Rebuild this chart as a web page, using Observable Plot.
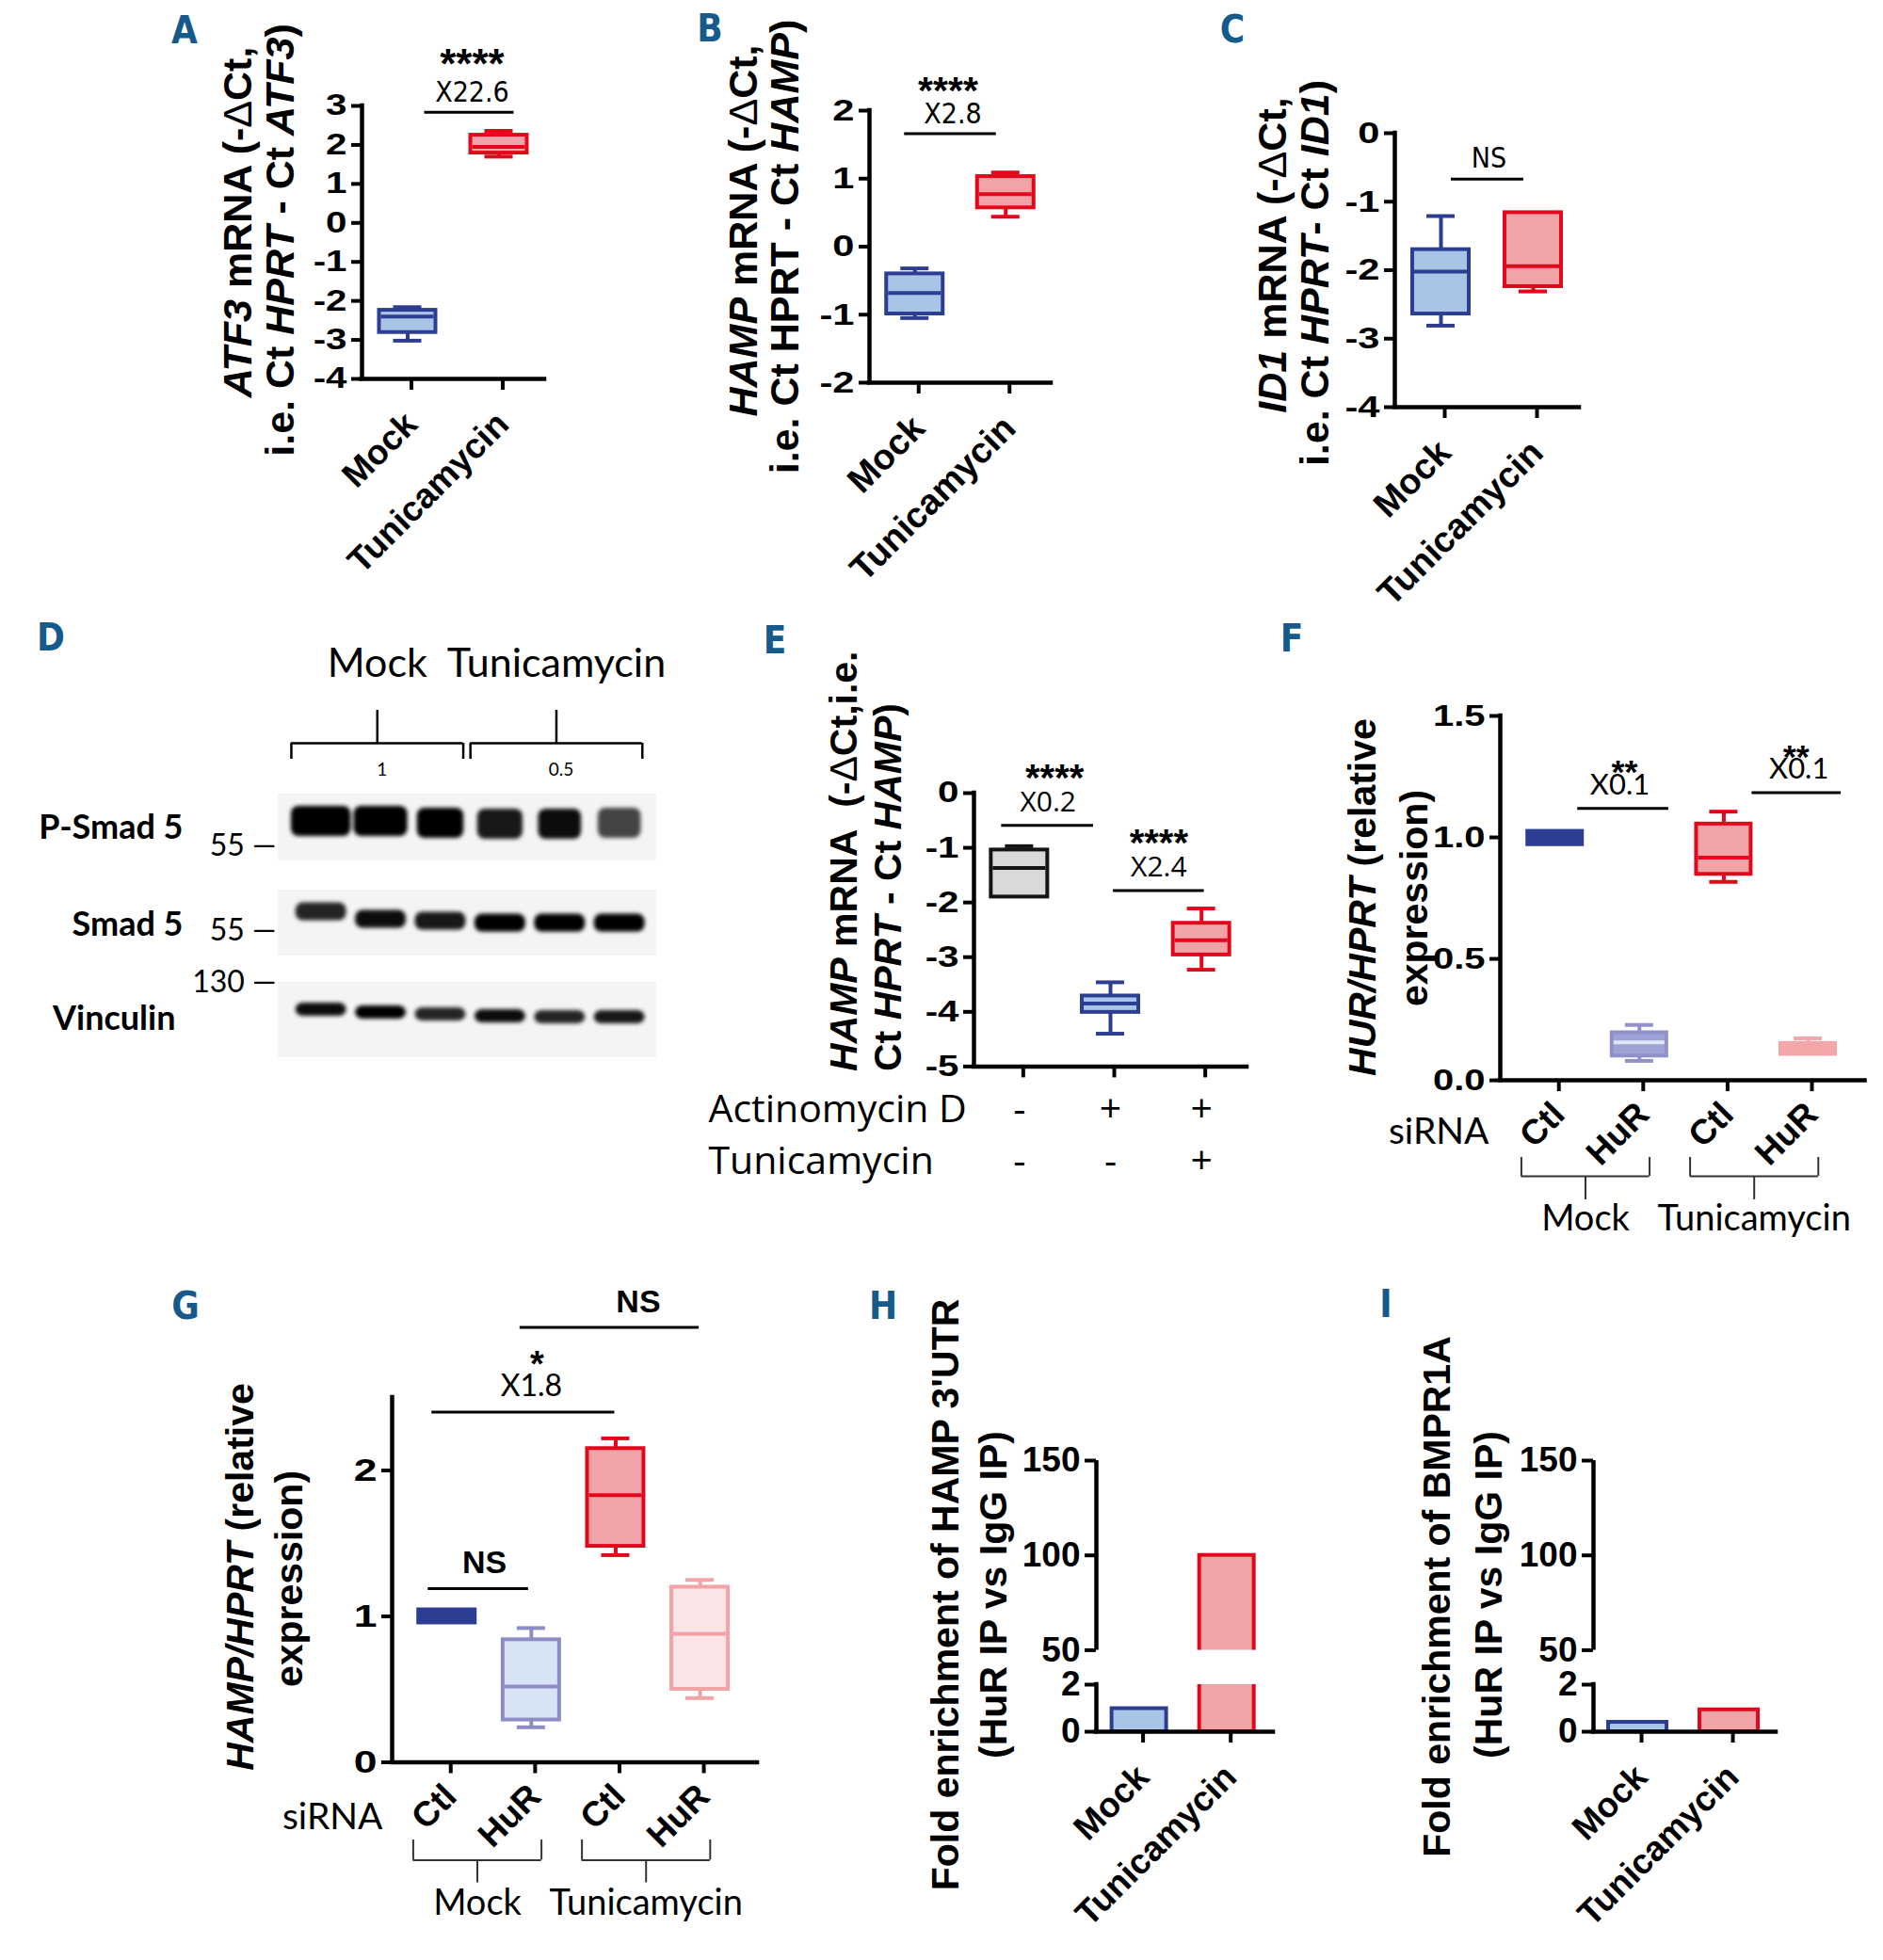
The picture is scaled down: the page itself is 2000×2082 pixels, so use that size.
<!DOCTYPE html>
<html>
<head>
<meta charset="utf-8">
<script src="https://cdn.jsdelivr.net/npm/d3@7"></script>
<script src="https://cdn.jsdelivr.net/npm/@observablehq/plot@0.6"></script>
<style>
html,body{margin:0;padding:0;background:#fff;}
#fig{position:relative;width:2000px;height:2082px;overflow:hidden;background:#fff;}
#fig svg{position:absolute;overflow:visible;}
.ylab{position:absolute;white-space:nowrap;font-family:"Liberation Sans",Arial,Helvetica,sans-serif;font-weight:bold;line-height:1;color:#000;}
.ylab.mid{transform:translate(-50%,-50%) rotate(-90deg);}
.ylab.start{transform-origin:0 50%;transform:translate(0,-50%) rotate(-90deg);}
.ylab .d{font-weight:normal;}
.letter{position:absolute;font-family:"DejaVu Sans Condensed","Liberation Sans Narrow",sans-serif;font-weight:bold;color:#155a8a;transform:translate(-50%,-50%);line-height:1;font-size:40px;}
</style>
</head>
<body>
<div id="fig"></div>
<script>
// ===================== DATA =====================
const groups2 = ["Mock", "Tunicamycin"];

// A: ATF3 mRNA (-dCt) box statistics
const atf3Stats = [
  {group: "Mock", min: -3.02, q1: -2.81, median: -2.40, q3: -2.24, max: -2.16},
  {group: "Tunicamycin", min: 1.70, q1: 1.79, median: 1.95, q3: 2.25, max: 2.36}
];
// B: HAMP mRNA (-dCt)
const hampStats = [
  {group: "Mock", min: -1.05, q1: -0.99, median: -0.68, q3: -0.40, max: -0.32},
  {group: "Tunicamycin", min: 0.44, q1: 0.57, median: 0.77, q3: 1.03, max: 1.09}
];
// C: ID1 mRNA (-dCt)
const id1Stats = [
  {group: "Mock", min: -2.81, q1: -2.64, median: -2.02, q3: -1.70, max: -1.21},
  {group: "Tunicamycin", min: -2.31, q1: -2.24, median: -1.94, q3: -1.16, max: -1.16}
];
// E: HAMP mRNA with actinomycin D
const eConditions = ["ctl", "actD", "actD+tun"];
const eRowNames = ["Actinomycin D", "Tunicamycin"];
const eActinomycinD = ["-", "+", "+"];
const eTunicamycin = ["-", "-", "+"];
const hampActDStats = [
  {group: "ctl", min: -1.90, q1: -1.90, median: -1.37, q3: -1.04, max: -0.97},
  {group: "actD", min: -4.40, q1: -4.01, median: -3.85, q3: -3.71, max: -3.46},
  {group: "actD+tun", min: -3.23, q1: -2.96, median: -2.69, q3: -2.38, max: -2.11}
];
// F, G: siRNA experiments
const siConditions = ["Mock Ctl", "Mock HuR", "Tun Ctl", "Tun HuR"];
const siTreatment = ["Mock", "Mock", "Tunicamycin", "Tunicamycin"];
const siRNAs = ["Ctl", "HuR", "Ctl", "HuR"];
const hurStats = [
  {group: "Mock Ctl", min: 0.97, q1: 0.97, median: 1.00, q3: 1.025, max: 1.025},
  {group: "Mock HuR", min: 0.08, q1: 0.10, median: 0.156, q3: 0.196, max: 0.228},
  {group: "Tun Ctl", min: 0.817, q1: 0.848, median: 0.917, q3: 1.055, max: 1.106},
  {group: "Tun HuR", min: 0.107, q1: 0.107, median: 0.13, q3: 0.152, max: 0.173}
];
const hampSiStats = [
  {group: "Mock Ctl", min: 0.955, q1: 0.955, median: 1.00, q3: 1.045, max: 1.045},
  {group: "Mock HuR", min: 0.24, q1: 0.29, median: 0.52, q3: 0.84, max: 0.92},
  {group: "Tun Ctl", min: 1.42, q1: 1.48, median: 1.83, q3: 2.15, max: 2.22},
  {group: "Tun HuR", min: 0.44, q1: 0.50, median: 0.88, q3: 1.20, max: 1.25}
];
// H, I: RIP fold enrichment
const ripHamp = [0.98, 100];
const ripBmpr1a = [0.40, 0.93];

// significance annotations
const sigA = [{from: "Mock", to: "Tunicamycin", y: 2.84, fold: "X22.6", stars: "****"}];
const sigB = [{from: "Mock", to: "Tunicamycin", y: 1.66, fold: "X2.8", stars: "****"}];
const sigC = [{from: "Mock", to: "Tunicamycin", y: -0.67, fold: "NS", stars: ""}];
const sigE = [
  {from: "ctl", to: "actD", y: -0.59, fold: "X0.2", stars: "****"},
  {from: "actD", to: "actD+tun", y: -1.78, fold: "X2.4", stars: "****"}
];
const sigF = [
  {from: "Mock Ctl", to: "Mock HuR", y: 1.119, fold: "X0.1", stars: "**"},
  {from: "Tun Ctl", to: "Tun HuR", y: 1.184, fold: "X0.1", stars: "**"}
];
const sigG = [
  {from: "Mock Ctl", to: "Tun Ctl", y: 2.40, fold: "X1.8", stars: "*"},
  {from: "Mock HuR", to: "Tun HuR", y: 2.98, fold: "NS", stars: ""},
  {from: "Mock Ctl", to: "Mock HuR", y: 1.19, fold: "NS", stars: ""}
];

// D: western blot (gel migration units, band intensity 0-1)
const blotLanes = [0, 1, 2, 3, 4, 5];
const blotTreatment = ["Mock", "Mock", "Mock", "Tunicamycin", "Tunicamycin", "Tunicamycin"];
const blotRatio = {"Mock": "1", "Tunicamycin": "0.5"};
const blotProteins = ["P-Smad 5", "Smad 5", "Vinculin"];
const blotStripTop = [0, 102, 200];
const blotStripBottom = [71, 172, 280];
const pSmad5Band = [1.0, 1.0, 1.0, 0.9, 0.95, 0.72];
const smad5Band = [0.85, 0.95, 0.9, 1.0, 1.0, 1.0];
const vinculinBand = [0.95, 1.0, 0.85, 0.95, 0.85, 0.9];
const pSmad5Width = [1.0, 0.9, 0.78, 0.76, 0.72, 0.72];
const pSmad5Pos = [29, 29, 31, 32, 32, 31];
const smad5Pos = [125, 133, 135, 137, 137, 137];
const vinculinPos = [229, 232, 234, 236, 237, 237];
const mwMarkers = [{kda: "55", pos: 55}, {kda: "55", pos: 145}, {kda: "130", pos: 200}];

// ===================== STYLE =====================
const ARIAL = '"Liberation Sans", Arial, Helvetica, sans-serif';
const COND = '"DejaVu Sans Condensed", "Liberation Sans Narrow", sans-serif';
const LATO = 'Lato, "Open Sans", sans-serif';
const OPEN = '"Open Sans", Lato, sans-serif';
const BLUE = {stroke: "#2c3d92", fill: "#a8c5e8"};
const RED = {stroke: "#e2071b", fill: "#f2a3a8"};
const GREY = {stroke: "#141414", fill: "#d9d9d9"};
const BLUE_SOLID = {stroke: "#2c3d92", fill: "#2c3d92"};
const LAV_F = {stroke: "#9191c9", fill: "#9fa2d5", median: "#dce8f7"};
const LAV_G = {stroke: "#8d8dc5", fill: "#d7e4f5"};
const PINK_G = {stroke: "#f3a2a6", fill: "#fce5e7"};
const PINK_F = {stroke: "#f4a6a9", fill: "#f4a6a9"};
const baseStyle = {fontFamily: ARIAL, fontWeight: "bold", overflow: "visible", background: "transparent", color: "#000"};

const fig = document.getElementById("fig");
function put(svg, left, top) {
  svg.style.left = left + "px";
  svg.style.top = top + "px";
  fig.appendChild(svg);
}
// widen tick labels horizontally (the reference panels are stretched)
function stretch(svg, sx) {
  if (!sx || sx === 1) return;
  svg.querySelectorAll('g[aria-label="y-axis tick label"] text').forEach(t => {
    const tr = t.getAttribute("transform");
    if (tr) t.setAttribute("transform", tr + ` scale(${sx},1)`);
    else {
      const x = +(t.getAttribute("x") || 0);
      t.setAttribute("transform", `translate(${x},0) scale(${sx},1) translate(${-x},0)`);
    }
  });
}

// ===================== BOX PANEL =====================
function boxPanel(c) {
  const n = c.cats.length;
  const padL = c.padL ?? 0.5, padR = c.padR ?? 0.5;
  const step = (c.R - c.L) / (n - 1 + padL + padR);
  const hw = (c.boxW ?? 60) / 2 / step, cw = (c.capW ?? 30) / 2 / step;
  const mL = c.mL ?? 110, mR = c.mR ?? 40, mT = c.mT ?? 120, mB = c.mB ?? 230;
  const rows = c.stats.map((d, k) => ({...d, i: c.cats.indexOf(d.group), stroke: c.colors[k].stroke,
    fill: c.colors[k].fill, mstroke: c.colors[k].median ?? c.colors[k].stroke}));
  const ix = g => c.cats.indexOf(g);
  const sig = (c.sig ?? []).map((s, k) => {
    const o = (c.sigStyle ?? [])[k] ?? {};
    const a = ix(s.from), b = ix(s.to);
    return {...s, x1: a + (o.dx1 ?? 0) / step, x2: b + (o.dx2 ?? 0) / step,
      xm: (a + b) / 2 + (o.tdx ?? 0) / step, xs: (a + b) / 2 + (o.sdx ?? o.tdx ?? 0) / step, bold: !!o.bold};
  });
  const sw = c.sw ?? 4;
  const marks = [
    Plot.ruleX(rows, {x: "i", y1: "min", y2: "max", stroke: "stroke", strokeWidth: sw}),
    Plot.ruleY(rows.filter(d => d.max > d.q3), {x1: d => d.i - cw, x2: d => d.i + cw, y: "max", stroke: "stroke", strokeWidth: sw}),
    Plot.ruleY(rows.filter(d => d.min < d.q1), {x1: d => d.i - cw, x2: d => d.i + cw, y: "min", stroke: "stroke", strokeWidth: sw}),
    Plot.rect(rows, {x1: d => d.i - hw, x2: d => d.i + hw, y1: "q1", y2: "q3", fill: "fill", stroke: "stroke", strokeWidth: sw}),
    Plot.ruleY(rows, {x1: d => d.i - hw + 2 / step, x2: d => d.i + hw - 2 / step, y: "median", stroke: "mstroke", strokeWidth: sw}),
    Plot.ruleY(sig, {x1: "x1", x2: "x2", y: "y", stroke: "#000", strokeWidth: 3}),
    Plot.text(sig.filter(d => !d.bold), {x: "xm", y: "y", text: "fold", dy: c.foldDy, fontFamily: c.foldFamily, fontWeight: "normal", fontSize: c.foldSize, fill: "#000"}),
    Plot.text(sig.filter(d => d.bold), {x: "xm", y: "y", text: "fold", dy: c.foldDy, fontFamily: ARIAL, fontWeight: "bold", fontSize: c.foldSize + 2, fill: "#000"}),
    Plot.text(sig.filter(d => d.stars), {x: "xs", y: "y", text: "stars", dy: c.starDy, fontFamily: ARIAL, fontWeight: "bold", fontSize: c.starSize, fill: "#000"}),
    Plot.ruleX([-padL], {stroke: "#000", strokeWidth: 4.5, strokeLinecap: "square"}),
    Plot.ruleY([c.y[0]], {stroke: "#000", strokeWidth: 4.5, strokeLinecap: "square"}),
    Plot.axisY({ticks: c.ticks, tickFormat: c.tickFormat ?? (d => String(d)), tickSize: 11, tickPadding: 5, stroke: "#000", strokeWidth: 4,
      fontSize: c.tickFont, fontWeight: "bold", fontFamily: ARIAL, label: null, fill: "#000"}),
    Plot.axisX({ticks: d3.range(n), tickFormat: c.catFormat ?? (i => c.cats[i]), tickSize: 12, tickPadding: c.catPad ?? 30,
      stroke: "#000", strokeWidth: 4, tickRotate: c.catRotate ?? -45, fontSize: c.catFont, fontWeight: "bold", fontFamily: ARIAL,
      label: null, dx: c.catDx ?? 4, fill: "#000"})
  ];
  if (c.extraMarks) marks.push(...c.extraMarks);
  const svg = Plot.plot({
    width: mL + (c.R - c.L) + mR, height: mT + (c.B - c.T) + mB,
    marginLeft: mL, marginRight: mR, marginTop: mT, marginBottom: mB,
    x: {domain: [-padL, n - 1 + padR]}, y: {domain: c.y},
    style: baseStyle, marks
  });
  stretch(svg, c.tickStretch);
  put(svg, c.L - mL, c.T - mT);
  return {step, padL, padR, mL, mR, n};
}

// brace group labels below F / G
function braceGroups(c, info) {
  const n = info.n;
  const groups = d3.groups(d3.range(n), i => c.treatment[i])
    .map(([label, idx]) => ({label, a: d3.min(idx) - 0.4, b: d3.max(idx) + 0.12}));
  groups.forEach(g => g.m = (g.a + g.b) / 2);
  const mT = 5, mB = 70, h = c.bottom - c.top;
  const svg = Plot.plot({
    width: info.mL + (c.R - c.L) + info.mR, height: mT + h + mB,
    marginLeft: info.mL, marginRight: info.mR, marginTop: mT, marginBottom: mB,
    x: {domain: [-info.padL, n - 1 + info.padR], axis: null}, y: {domain: [0, 1], axis: null},
    style: baseStyle,
    marks: [
      Plot.ruleY(groups, {x1: "a", x2: "b", y: c.arm, stroke: "#333", strokeWidth: 2}),
      Plot.ruleX(groups.flatMap(g => [g.a, g.b]), {x: d => d, y1: c.arm, y2: 1, stroke: "#333", strokeWidth: 2}),
      Plot.ruleX(groups, {x: "m", y1: 0, y2: c.arm, stroke: "#333", strokeWidth: 2}),
      Plot.text(groups, {x: "m", y: 0, dy: c.labelDy, text: "label", fontFamily: LATO, fontWeight: "normal", fontSize: 38, fill: "#000"})
    ]
  });
  put(svg, c.L - info.mL, c.top - mT);
}

// ===================== BROKEN-AXIS BAR PANEL =====================
function brokenBars(c) {
  const n = c.cats.length, padL = c.padL ?? 0.5, padR = c.padR ?? 0.5;
  const step = (c.R - c.L) / (n - 1 + padL + padR);
  const hw = (c.barW ?? 60) / 2 / step;
  const rows = c.values.map((v, k) => ({i: k, v, stroke: c.colors[k].stroke, fill: c.colors[k].fill}));
  const mL = 130, mR = 40;
  const common = {width: mL + (c.R - c.L) + mR, marginLeft: mL, marginRight: mR, style: baseStyle};
  const xDomain = [-padL, n - 1 + padR];
  const bars = () => Plot.rect(rows, {x1: d => d.i - hw, x2: d => d.i + hw, y1: 0, y2: "v", fill: "fill", stroke: "stroke", strokeWidth: 4, clip: true});
  const yAxis = ticks => Plot.axisY({ticks, tickFormat: d => String(d), tickSize: 12, tickPadding: 5, stroke: "#000", strokeWidth: 4,
    fontSize: c.tickFont, fontWeight: "bold", fontFamily: ARIAL, label: null, fill: "#000"});
  const uT = 40;
  const upper = Plot.plot({...common, height: uT + (c.uB - c.uT), marginTop: uT, marginBottom: 0,
    x: {domain: xDomain, axis: null}, y: {domain: [50, 150]},
    marks: [bars(), Plot.ruleX([-padL], {stroke: "#000", strokeWidth: 4.5}), yAxis([50, 100, 150])]});
  put(upper, c.L - mL, c.uT - uT);
  const lT = 20, lB = 240;
  const lower = Plot.plot({...common, height: lT + (c.lB - c.lT) + lB, marginTop: lT, marginBottom: lB,
    x: {domain: xDomain}, y: {domain: [0, 2]},
    marks: [bars(),
      Plot.ruleX([-padL], {stroke: "#000", strokeWidth: 4.5, strokeLinecap: "square"}),
      Plot.ruleY([0], {stroke: "#000", strokeWidth: 4.5, strokeLinecap: "square"}),
      yAxis([0, 2]),
      Plot.axisX({ticks: d3.range(n), tickFormat: i => c.cats[i], tickSize: 12, tickPadding: 30, stroke: "#000", strokeWidth: 4,
        tickRotate: -45, fontSize: c.catFont, fontWeight: "bold", fontFamily: ARIAL, label: null, dx: 4, fill: "#000"})]});
  put(lower, c.L - mL, c.lT - lT);
}

// ===================== PANELS =====================
// A
boxPanel({cats: groups2, stats: atf3Stats, colors: [BLUE, RED], L: 384, R: 578, T: 112, B: 402, y: [-4, 3],
  ticks: d3.range(-4, 4), tickFont: 31, tickStretch: 1.3, catFont: 37, mT: 110,
  sig: sigA, sigStyle: [{dx1: 18, dx2: 16, tdx: 20}], foldFamily: COND, foldSize: 30, foldDy: -21, starSize: 44, starDy: -50});
// B
boxPanel({cats: groups2, stats: hampStats, colors: [BLUE, RED], L: 923, R: 1116, T: 117, B: 406, y: [-2, 2],
  ticks: d3.range(-2, 3), tickFont: 32, tickStretch: 1.3, catFont: 38, mT: 115,
  sig: sigB, sigStyle: [{dx1: -11, dx2: -10, tdx: -8, sdx: -13}], foldFamily: COND, foldSize: 30, foldDy: -21, starSize: 41, starDy: -45});
// C
boxPanel({cats: groups2, stats: id1Stats, colors: [BLUE, RED], L: 1481, R: 1677, T: 141, B: 432, y: [-4, 0],
  ticks: d3.range(-4, 1), tickFont: 32, tickStretch: 1.3, catFont: 38, mT: 120,
  sig: sigC, sigStyle: [{dx1: 11, dx2: -10, tdx: 2}], foldFamily: COND, foldSize: 30, foldDy: -22, starSize: 40, starDy: -44});
// E
const infoE = boxPanel({cats: eConditions, stats: hampActDStats, colors: [GREY, BLUE, RED], L: 1034, R: 1324, T: 841.6, B: 1132, y: [-5, 0],
  ticks: d3.range(-5, 1), tickFont: 31, tickStretch: 1.3, catFont: 30, catFormat: () => "", mT: 120, mB: 40,
  sig: sigE, sigStyle: [{dx1: -19, dx2: -18, tdx: -18, sdx: -11}, {dx1: 3, dx2: 3, tdx: 3}],
  foldFamily: OPEN, foldSize: 30, foldDy: -24, starSize: 40, starDy: -50});
// E condition rows
(function () {
  const L = 1034, R = 1324, top = 1150, h = 111;
  const cells = eConditions.flatMap((c, i) => [
    {i, row: eRowNames[0], sign: eActinomycinD[i]},
    {i, row: eRowNames[1], sign: eTunicamycin[i]}
  ]);
  const svg = Plot.plot({
    width: infoE.mL + (R - L) + infoE.mR, height: h, marginLeft: infoE.mL, marginRight: infoE.mR, marginTop: 0, marginBottom: 0,
    x: {domain: [-infoE.padL, 2 + infoE.padR], axis: null}, y: {type: "band", domain: eRowNames, padding: 0, axis: null},
    style: baseStyle,
    marks: [
      Plot.text(eRowNames, {y: d => d, text: d => d, frameAnchor: "left", textAnchor: "start", dx: -282, fontFamily: OPEN, fontWeight: "normal", fontSize: 41, fill: "#000"}),
      Plot.text(cells, {x: "i", y: "row", text: "sign", fontFamily: OPEN, fontWeight: "normal", fontSize: 41, fill: "#000"})
    ]
  });
  put(svg, L - infoE.mL, top);
})();
// F
const infoF = boxPanel({cats: siConditions, stats: hurStats, colors: [BLUE_SOLID, LAV_F, RED, PINK_F],
  L: 1592.5, R: 1980, T: 759.6, B: 1146.7, y: [0, 1.5], padL: 0.65, padR: 0.675, boxW: 58,
  ticks: [0, 0.5, 1, 1.5], tickFormat: d => d.toFixed(1), tickFont: 32, tickStretch: 1.25, catFont: 37, catPad: 18,
  catFormat: i => siRNAs[i], mT: 120, mB: 120,
  sig: sigF, sigStyle: [{dx1: 24, dx2: 31, tdx: 24, sdx: 29}, {dx1: 30, dx2: 35, tdx: 35, sdx: 32}],
  foldFamily: LATO, foldSize: 31, foldDy: -25, starSize: 36, starDy: -38,
  extraMarks: [Plot.text(["siRNA"], {text: d => d, frameAnchor: "bottom-left", textAnchor: "end", dx: -12, dy: 67, fontFamily: LATO, fontWeight: "normal", fontSize: 39, fill: "#000"})]});
braceGroups({treatment: siTreatment, L: 1592.5, R: 1980, top: 1229, bottom: 1274, arm: 0.556, labelDy: 20}, infoF);
// G
const infoG = boxPanel({cats: siConditions, stats: hampSiStats, colors: [BLUE_SOLID, LAV_G, RED, PINK_G],
  L: 416, R: 804, T: 1483.5, B: 1871, y: [0, 2.5], padL: 0.65, padR: 0.68, boxW: 60,
  ticks: [0, 1, 2], tickFont: 33, tickStretch: 1.35, catFont: 37, catPad: 18, catFormat: i => siRNAs[i], mT: 130, mB: 120,
  sig: sigG, sigStyle: [{dx1: -16, dx2: -1, tdx: 0, sdx: 6}, {dx1: -12, dx2: -1, tdx: 24, bold: true}, {dx1: -20, dx2: -3, tdx: -5, bold: true}],
  foldFamily: LATO, foldSize: 32, foldDy: -27, starSize: 38, starDy: -50,
  extraMarks: [Plot.text(["siRNA"], {text: d => d, frameAnchor: "bottom-left", textAnchor: "end", dx: -10, dy: 71, fontFamily: LATO, fontWeight: "normal", fontSize: 39, fill: "#000"})]});
braceGroups({treatment: siTreatment, L: 416, R: 804, top: 1953.5, bottom: 1999, arm: 0.53, labelDy: 22}, infoG);
// H
brokenBars({cats: groups2, values: ripHamp, colors: [BLUE, RED], L: 1164, R: 1352, padL: 0.49, padR: 0.53, barW: 58,
  uT: 1550.6, uB: 1752, lT: 1789, lB: 1839, tickFont: 37, catFont: 37});
// I
brokenBars({cats: groups2, values: ripBmpr1a, colors: [BLUE, RED], L: 1692, R: 1886, padL: 0.485, padR: 0.515, barW: 62,
  uT: 1550.6, uB: 1752, lT: 1789, lB: 1839, tickFont: 37, catFont: 37});

// D: western blot
(function () {
  const L = 295, R = 697, T0 = 703, B0 = 1133;
  const mL = 295, mR = 20, mT = 40, mB = 10;
  const proteinBands = [pSmad5Band, smad5Band, vinculinBand];
  const proteinPos = [pSmad5Pos, smad5Pos, vinculinPos];
  const bandHeight = [32, 19, 14];
  const bands = blotProteins.flatMap((p, r) => blotLanes.map(l => ({r, lane: l, pos: proteinPos[r][l], intensity: proteinBands[r][l],
    w: r === 0 ? pSmad5Width[l] : 0.85})));
  const strips = blotProteins.map((p, r) => ({protein: p, top: blotStripTop[r], bottom: blotStripBottom[r], label: d3.mean(proteinPos[r])}));
  const groups = d3.groups(blotLanes, l => blotTreatment[l])
    .map(([name, ls]) => ({name, a: d3.min(ls) - 0.5, b: d3.max(ls) + 0.38, ratio: blotRatio[name]}));
  groups.forEach(g => g.m = (g.a + g.b) / 2);
  const BR = {arm: -54, end: -37, stem: -89, label: -138, ratio: -26};
  const svg = Plot.plot({
    width: mL + (R - L) + mR, height: mT + (B0 - T0) + mB,
    marginLeft: mL, marginRight: mR, marginTop: mT, marginBottom: mB,
    x: {domain: [-0.72, 5.62], axis: null}, y: {domain: [-140, 290], reverse: true, axis: null},
    opacity: {domain: [0, 1]},
    style: baseStyle,
    marks: [
      Plot.rect(strips, {y1: "top", y2: "bottom", fill: "#f4f4f4"}),
      Plot.rect(bands, {x1: d => d.lane - d.w / 2, x2: d => d.lane + d.w / 2, y1: d => d.pos - bandHeight[d.r] / 2, y2: d => d.pos + bandHeight[d.r] / 2,
        fill: "#000", fillOpacity: "intensity", rx: 8}),
      Plot.text(strips.slice(0, 2), {y: "label", text: "protein", frameAnchor: "left", textAnchor: "end", dx: -101, dy: 5, fontFamily: LATO, fontWeight: "bold", fontSize: 36, fill: "#000"}),
      Plot.text(strips.slice(2), {y: "label", text: "protein", frameAnchor: "left", textAnchor: "end", dx: -109, dy: 5, fontFamily: LATO, fontWeight: "bold", fontSize: 36, fill: "#000"}),
      Plot.text(mwMarkers, {y: "pos", text: d => d.kda + " \u2014", frameAnchor: "left", textAnchor: "end", dx: -2, fontFamily: LATO, fontWeight: "normal", fontSize: 32, fill: "#000"}),
      Plot.ruleY(groups, {x1: "a", x2: "b", y: BR.arm, stroke: "#000", strokeWidth: 2.5}),
      Plot.ruleX(groups.flatMap(g => [g.a, g.b]), {x: d => d, y1: BR.arm, y2: BR.end, stroke: "#000", strokeWidth: 2.5}),
      Plot.ruleX(groups, {x: "m", y1: BR.arm, y2: BR.stem, stroke: "#000", strokeWidth: 2.5}),
      Plot.text(groups, {x: "m", y: BR.label, text: "name", fontFamily: LATO, fontWeight: "normal", fontSize: 43, fill: "#000"}),
      Plot.text(groups, {x: "m", y: BR.ratio, dx: 5, text: "ratio", fontFamily: LATO, fontWeight: "normal", fontSize: 19, fill: "#000"})
    ]
  });
  const ns = "http://www.w3.org/2000/svg";
  const defs = document.createElementNS(ns, "defs");
  defs.innerHTML = '<filter id="bandBlur" x="-30%" y="-80%" width="160%" height="260%"><feGaussianBlur stdDeviation="2.3"/></filter>';
  svg.insertBefore(defs, svg.firstChild);
  const rectGroups = svg.querySelectorAll('g[aria-label="rect"]');
  if (rectGroups.length > 1) rectGroups[1].setAttribute("filter", "url(#bandBlur)");
  put(svg, L - mL, T0 - mT);
})();

// ===================== TEXT: axis titles & panel letters =====================
const yTitles = [
  {html: '<i>ATF3</i> mRNA (-<span class="d">\u0394</span>Ct,', x: 252, y: 236, size: 43},
  {html: 'i.e. Ct <i>HPRT</i> - Ct <i>ATF3</i>)', x: 297, y: 255, size: 43},
  {html: '<i>HAMP</i> mRNA (-<span class="d">\u0394</span>Ct,', x: 789, y: 245, size: 43},
  {html: 'i.e. Ct HPRT - Ct <i>HAMP</i>)', x: 833, y: 262, size: 43},
  {html: '<i>ID1</i> mRNA (-<span class="d">\u0394</span>Ct,', x: 1351, y: 271, size: 43},
  {html: 'i.e. Ct <i>HPRT</i>- Ct <i>ID1</i>)', x: 1396, y: 290, size: 43},
  {html: '<i>HAMP</i> mRNA&nbsp; (-<span class="d">\u0394</span>Ct,i.e.', x: 896, y: 1138, size: 41, start: true},
  {html: 'Ct <i>HPRT</i> - Ct <i>HAMP</i>)', x: 943, y: 1138, size: 41, start: true},
  {html: '<i>HUR/HPRT</i> (relative', x: 1447, y: 953, size: 41},
  {html: 'expression)', x: 1502, y: 954, size: 41},
  {html: '<i>HAMP/HPRT</i> (relative', x: 255, y: 1675, size: 41},
  {html: 'expression)', x: 307, y: 1677, size: 41},
  {html: "Fold enrichment of HAMP 3'UTR", x: 1004, y: 1694, size: 41},
  {html: '(HuR IP vs IgG IP)', x: 1055, y: 1694, size: 41},
  {html: 'Fold enrichment of BMPR1A', x: 1526, y: 1696, size: 41},
  {html: '(HuR IP vs IgG IP)', x: 1581, y: 1694, size: 41}
];
yTitles.forEach(t => {
  const d = document.createElement("div");
  d.className = "ylab " + (t.start ? "start" : "mid");
  d.innerHTML = t.html;
  d.style.fontSize = t.size + "px";
  d.style.left = t.x + "px";
  d.style.top = t.y + "px";
  fig.appendChild(d);
});
const panelLetters = [["A", 196, 32], ["B", 754, 30], ["C", 1309, 31], ["D", 54, 677], ["E", 823, 680],
  ["F", 1372, 678], ["G", 197, 1387], ["H", 938, 1387], ["I", 1472, 1385]];
panelLetters.forEach(([t, x, y]) => {
  const d = document.createElement("div");
  d.className = "letter";
  d.textContent = t;
  d.style.left = x + "px";
  d.style.top = y + "px";
  fig.appendChild(d);
});
</script>
</body>
</html>
